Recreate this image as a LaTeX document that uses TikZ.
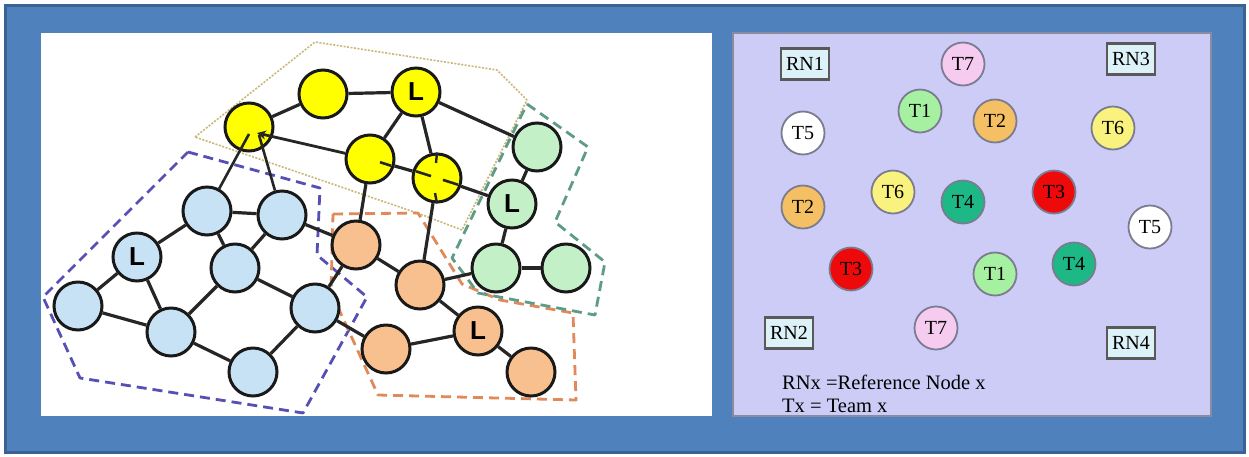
\documentclass[tikz,border=0pt]{standalone}
\usepackage{fontspec}
\setmainfont{Liberation Serif}
\newfontfamily\lsans{Liberation Sans}
\usetikzlibrary{arrows.meta,calc}

\definecolor{frameblue}{HTML}{4F81BD}
\definecolor{framedark}{HTML}{3A6393}
\definecolor{panellav}{HTML}{CDCCF7}
\definecolor{panelrim}{HTML}{8A8AA0}
\definecolor{nyellow}{HTML}{FFFF00}
\definecolor{nblue}{HTML}{C8E2F5}
\definecolor{norange}{HTML}{F8C08E}
\definecolor{ngreen}{HTML}{C4F0C8}
\definecolor{gblue}{HTML}{5650B4}
\definecolor{gorange}{HTML}{E0895A}
\definecolor{ggreen}{HTML}{5E9C88}
\definecolor{gtan}{HTML}{C9B878}
\definecolor{tpink}{HTML}{F6CBF0}
\definecolor{tgreen}{HTML}{A6F0A2}
\definecolor{torange}{HTML}{F4C063}
\definecolor{tyellow}{HTML}{FAF27E}
\definecolor{tteal}{HTML}{1DB886}
\definecolor{tred}{HTML}{EE0A0A}
\definecolor{rnfill}{HTML}{DDF2F8}

\tikzset{
  agent/.style={circle, draw=black!90, line width=3pt, minimum size=48pt,
    inner sep=0pt, font=\lsans\bfseries\fontsize{26}{26}\selectfont},
  link/.style={line width=3.2pt, draw=black!85},
  group/.style={line width=2.8pt, dash pattern=on 10pt off 6pt, line join=round},
  team/.style={circle, draw=panelrim!90!black, line width=1.8pt, minimum size=43pt,
    inner sep=0pt, font=\fontsize{20}{20}\selectfont},
  refnode/.style={rectangle, draw=black!65, line width=2.2pt, fill=rnfill,
    minimum width=48pt, minimum height=31pt, inner sep=1pt,
    font=\fontsize{20}{20}\selectfont},
  legend/.style={anchor=west, inner sep=0pt, font=\fontsize{20.5}{20.5}\selectfont}
}

\begin{document}
\begin{tikzpicture}[x=1pt, y=-1pt]
\useasboundingbox (0,0) rectangle (1249,456);
\fill[white] (0,0) rectangle (1249,456);

% outer frame and the two panels
\draw[fill=frameblue, draw=framedark, line width=3pt] (5,5) rectangle (1244,452);
\fill[white] (41,33) rectangle (712,416);
\draw[fill=panellav, draw=panelrim, line width=1.8pt] (733,33) rectangle (1211,416);

% team boundaries
\draw[group, draw=gtan, line width=1.6pt, dash pattern=on 2pt off 1.5pt]
  (195,137) -- (315,42) -- (497,70) -- (527,100) -- (462,230) -- (420,214) -- cycle;
\draw[group, draw=gblue]
  (188,152) -- (320,188) -- (317,255) -- (367,297) -- (303,413) -- (80,378) -- (43,297) -- cycle;
\draw[group, draw=gorange]
  (333,214) -- (418,213) -- (462,284) -- (500,300) -- (573,313) -- (576,400) -- (378,395) -- (331,292) -- cycle;
\draw[group, draw=ggreen]
  (527,104) -- (588,147) -- (555,222) -- (605,262) -- (595,315) -- (478,293) -- (452,258) -- cycle;

% agents
\node[agent, fill=nyellow] (y1) at (249,127) {};
\node[agent, fill=nyellow] (y2) at (323,94) {};
\node[agent, fill=nyellow] (yl) at (416,92) {L};
\node[agent, fill=nyellow] (y3) at (370,159) {};
\node[agent, fill=nyellow] (y4) at (437,178) {};

\node[agent, fill=ngreen] (g1) at (537,147) {};
\node[agent, fill=ngreen] (gl) at (512,204) {L};
\node[agent, fill=ngreen] (g2) at (496,268) {};
\node[agent, fill=ngreen] (g3) at (566,268) {};

\node[agent, fill=norange] (o1) at (356,245) {};
\node[agent, fill=norange] (o2) at (420,285) {};
\node[agent, fill=norange] (ol) at (478,331) {L};
\node[agent, fill=norange] (o3) at (386,349) {};
\node[agent, fill=norange] (o4) at (531,372) {};

\node[agent, fill=nblue] (b1) at (207,211) {};
\node[agent, fill=nblue] (b2) at (282,215) {};
\node[agent, fill=nblue] (bl) at (137,257) {L};
\node[agent, fill=nblue] (b3) at (235,268) {};
\node[agent, fill=nblue] (b4) at (78,306) {};
\node[agent, fill=nblue] (b5) at (171,332) {};
\node[agent, fill=nblue] (b6) at (315,308) {};
\node[agent, fill=nblue] (b7) at (253,372) {};

% links between agents
\draw[link] (y1) -- (y2);
\draw[link] (y2) -- (yl);
\draw[link] (yl) -- (y3);
\draw[link] (yl) -- (y4);
\draw[link] (yl) -- (g1);
\draw[link] (y3) -- (y4);
\draw[link] (y4) -- (gl);
\draw[link] (y3) -- (o1);
\draw[link] (y4) -- (o2);
\draw[link] (b1) -- (b2);
\draw[link] (b1) -- (bl);
\draw[link] (b1) -- (b3);
\draw[link] (b2) -- (b3);
\draw[link] (b2) -- (o1);
\draw[link] (bl) -- (b4);
\draw[link] (bl) -- (b5);
\draw[link] (b4) -- (b5);
\draw[link] (b3) -- (b5);
\draw[link] (b3) -- (b6);
\draw[link] (b5) -- (b7);
\draw[link] (b7) -- (b6);
\draw[link] (b6) -- (o1);
\draw[link] (b6) -- (o3);
\draw[link] (o1) -- (o2);
\draw[link] (o2) -- (g2);
\draw[link] (o2) -- (ol);
\draw[link] (o3) -- (ol);
\draw[link] (ol) -- (o4);
\draw[link] (gl) -- (g1);
\draw[link] (gl) -- (g2);
\draw[link] (g2) -- (g3);

% links that run on into the hub agent
\coordinate (hubA) at (249,134);
\coordinate (hubB) at (259,135);
\coordinate (hubC) at (257,133);
\draw[link, line width=2.6pt] (b1) -- (hubA);
\draw[link, line width=2.6pt] (b2) -- (hubB);
\draw[link, line width=2.8pt, -{Stealth[length=9pt,width=9pt,open]}] (y3) -- (hubC);

% the through-line showing across the two yellow agents
\draw[link, line width=2.6pt] ($(y3.center)+(10,3.2)$) -- ($(y3.center)+(21,6.7)$);
\draw[link, line width=2.6pt] ($(y4.center)+(-21,-6.7)$) -- ($(y4.center)+(-6,-1.9)$);
\draw[link, line width=2.6pt] ($(y4.center)+(6,1.9)$) -- ($(y4.center)+(21,6.7)$);
\draw[link, line width=2.4pt] ($(y4.center)+(-1,-15)$) -- (y4.north);
\draw[link, line width=2.4pt] ($(y4.center)+(-2,15)$) -- (y4.south);

% reference nodes
\node[refnode] (rn1) at (805,64) {RN1};
\node[refnode] (rn3) at (1131,59) {RN3};
\node[refnode] (rn2) at (789,333) {RN2};
\node[refnode] (rn4) at (1131,343) {RN4};

% teams
\node[team, fill=tpink]   (t7a) at (963,64)  {T7};
\node[team, fill=tgreen]  (t1a) at (920,111) {T1};
\node[team, fill=torange] (t2a) at (995,121) {T2};
\node[team, fill=tyellow] (t6a) at (1113,128) {T6};
\node[team, fill=white]   (t5a) at (803,133) {T5};
\node[team, fill=tyellow] (t6b) at (893,192) {T6};
\node[team, fill=tteal]   (t4a) at (963,202) {T4};
\node[team, fill=tred]    (t3a) at (1054,192) {T3};
\node[team, fill=torange] (t2b) at (803,207) {T2};
\node[team, fill=white]   (t5b) at (1150,227) {T5};
\node[team, fill=tred]    (t3b) at (851,269) {T3};
\node[team, fill=tgreen]  (t1b) at (995,274) {T1};
\node[team, fill=tteal]   (t4b) at (1074,264) {T4};
\node[team, fill=tpink]   (t7b) at (936,328) {T7};

% legend
\node[legend] (key1) at (782,382) {RNx =Reference Node x};
\node[legend] (key2) at (782,406) {Tx = Team x};
\end{tikzpicture}
\end{document}
